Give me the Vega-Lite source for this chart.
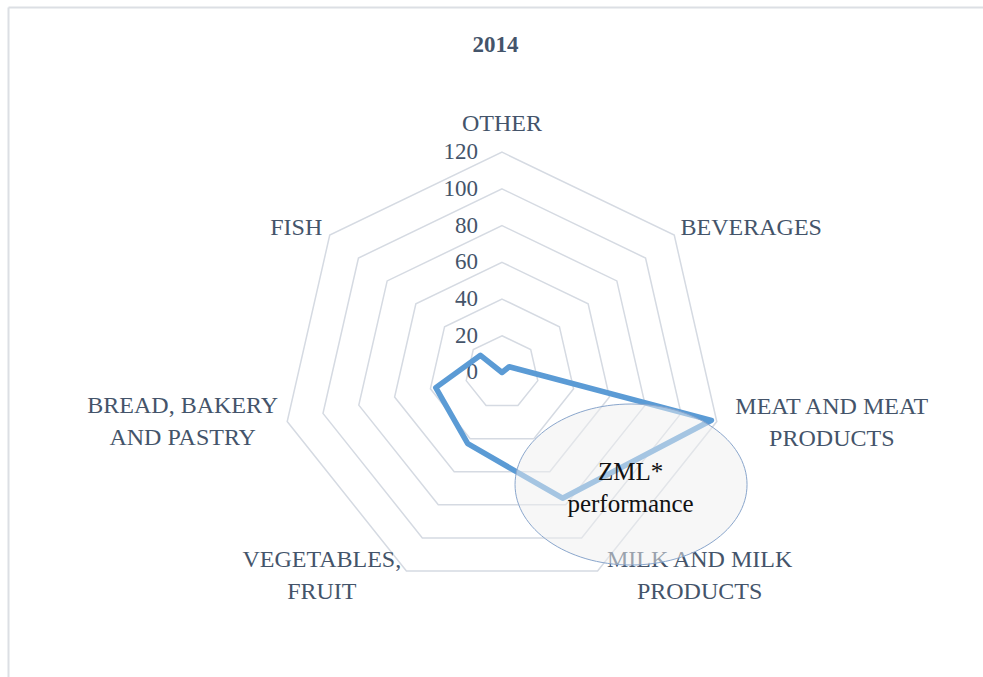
{
  "$schema": "https://vega.github.io/schema/vega-lite/v6.json",
  "autosize": "none",
  "width": 975,
  "height": 670,
  "padding": {"left": 8, "top": 7, "right": 0, "bottom": 0},
  "background": "white",
  "config": {"view": {"stroke": null}},
  "title": {
    "text": "2014",
    "font": "Liberation Serif",
    "fontSize": 23,
    "fontWeight": "bold",
    "color": "#44546a",
    "anchor": "middle",
    "frame": "group",
    "baseline": "middle",
    "offset": -61
  },
  "datasets": {
    "series": [
      {"category": "OTHER", "i": 0, "value": 0, "label": ["OTHER"]},
      {"category": "BEVERAGES", "i": 1, "value": 5, "label": ["BEVERAGES"]},
      {"category": "MEAT AND MEAT PRODUCTS", "i": 2, "value": 117, "label": ["MEAT AND MEAT", "PRODUCTS"]},
      {"category": "MILK AND MILK PRODUCTS", "i": 3, "value": 76, "label": ["MILK AND MILK", "PRODUCTS"]},
      {"category": "VEGETABLES, FRUIT", "i": 4, "value": 43, "label": ["VEGETABLES,", "FRUIT"]},
      {"category": "BREAD, BAKERY AND PASTRY", "i": 5, "value": 37, "label": ["BREAD, BAKERY", "AND PASTRY"]},
      {"category": "FISH", "i": 6, "value": 15, "label": ["FISH"]}
    ],
    "rings": [
      {"level": 20, "i": [0, 1, 2, 3, 4, 5, 6]},
      {"level": 40, "i": [0, 1, 2, 3, 4, 5, 6]},
      {"level": 60, "i": [0, 1, 2, 3, 4, 5, 6]},
      {"level": 80, "i": [0, 1, 2, 3, 4, 5, 6]},
      {"level": 100, "i": [0, 1, 2, 3, 4, 5, 6]},
      {"level": 120, "i": [0, 1, 2, 3, 4, 5, 6]}
    ],
    "ticks": [
      {"level": 0}, {"level": 20}, {"level": 40}, {"level": 60},
      {"level": 80}, {"level": 100}, {"level": 120}
    ],
    "notes": [
      {"category": "MILK AND MILK PRODUCTS", "note": ["ZML*", "performance"]}
    ]
  },
  "layer": [
    {
      "data": {"name": "rings"},
      "transform": [
        {"flatten": ["i"]},
        {"calculate": "datum.i * 2 * PI / 7", "as": "angle"},
        {"calculate": "datum.level * sin(datum.angle)", "as": "px"},
        {"calculate": "datum.level * cos(datum.angle)", "as": "py"}
      ],
      "mark": {"type": "line", "interpolate": "linear-closed", "stroke": "#d5dae2", "strokeWidth": 1.5},
      "encoding": {
        "x": {
          "field": "px", "type": "quantitative",
          "scale": {"domain": [-269.06, 261.98], "zero": false, "nice": false},
          "axis": {"orient": "top", "domain": true, "domainColor": "#dcdfe4", "domainWidth": 2, "ticks": false, "labels": false, "grid": false, "title": null}
        },
        "y": {
          "field": "py", "type": "quantitative",
          "scale": {"domain": [-165.85, 199.07], "zero": false, "nice": false},
          "axis": {"orient": "left", "domain": true, "domainColor": "#dcdfe4", "domainWidth": 2, "ticks": false, "labels": false, "grid": false, "title": null}
        },
        "detail": {"field": "level", "type": "quantitative"},
        "order": {"field": "i", "type": "quantitative"}
      }
    },
    {
      "data": {"name": "ticks"},
      "transform": [{"calculate": "0", "as": "px"}],
      "mark": {"type": "text", "align": "right", "baseline": "middle", "dx": -24, "font": "Liberation Serif", "fontSize": 23, "color": "#44546a"},
      "encoding": {
        "x": {"field": "px", "type": "quantitative"},
        "y": {"field": "level", "type": "quantitative"},
        "text": {"field": "level", "type": "quantitative"}
      }
    },
    {
      "data": {"name": "series"},
      "transform": [
        {"calculate": "datum.i * 2 * PI / 7", "as": "angle"},
        {"calculate": "datum.value * sin(datum.angle)", "as": "px"},
        {"calculate": "datum.value * cos(datum.angle)", "as": "py"}
      ],
      "mark": {"type": "line", "interpolate": "linear-closed", "stroke": "#5b9bd5", "strokeWidth": 5.5, "strokeJoin": "round"},
      "encoding": {
        "x": {"field": "px", "type": "quantitative"},
        "y": {"field": "py", "type": "quantitative"},
        "order": {"field": "i", "type": "quantitative"}
      }
    },
    {
      "data": {"name": "series"},
      "transform": [
        {"calculate": "datum.i * 2 * PI / 7", "as": "angle"},
        {"calculate": "120 * sin(datum.angle)", "as": "px"},
        {"calculate": "120 * cos(datum.angle)", "as": "py"}
      ],
      "mark": {
        "type": "text",
        "align": "center",
        "baseline": "middle",
        "lineHeight": 32,
        "font": "Liberation Serif",
        "fontSize": 24,
        "color": "#44546a",
        "dx": {"expr": "[0, 77, 115, 102, -84.6, -104.5, -33.5][datum.i]"},
        "dy": {"expr": "[-28.5, -7.3, -14.5, -10.7, -10.7, -16, -7.3][datum.i]"}
      },
      "encoding": {
        "x": {"field": "px", "type": "quantitative"},
        "y": {"field": "py", "type": "quantitative"},
        "text": {"field": "label"}
      }
    },
    {
      "data": {"name": "series"},
      "transform": [
        {"filter": "datum.i == 3"},
        {"calculate": "datum.i * 2 * PI / 7", "as": "angle"},
        {"calculate": "datum.value * sin(datum.angle)", "as": "px"},
        {"calculate": "datum.value * cos(datum.angle)", "as": "py"}
      ],
      "mark": {
        "type": "point",
        "shape": "M -0.4095 -0.1181 C -0.4095 -0.5011 0.0385 -0.8121 0.5905 -0.8121 C 1.1425 -0.8121 1.5905 -0.5011 1.5905 -0.1181 C 1.5905 0.2649 1.1425 0.5759 0.5905 0.5759 C 0.0385 0.5759 -0.4095 0.2649 -0.4095 -0.1181 Z",
        "size": 53824,
        "filled": true,
        "fill": "#f0f0f0",
        "fillOpacity": 0.5,
        "opacity": 1,
        "stroke": "#8aa6cc",
        "strokeOpacity": 1,
        "strokeWidth": 1
      },
      "encoding": {
        "x": {"field": "px", "type": "quantitative"},
        "y": {"field": "py", "type": "quantitative"}
      }
    },
    {
      "data": {"name": "series"},
      "transform": [
        {"lookup": "category", "from": {"data": {"name": "notes"}, "key": "category", "fields": ["note"]}},
        {"filter": "isValid(datum.note)"},
        {"calculate": "datum.i * 2 * PI / 7", "as": "angle"},
        {"calculate": "datum.value * sin(datum.angle)", "as": "px"},
        {"calculate": "datum.value * cos(datum.angle)", "as": "py"}
      ],
      "mark": {
        "type": "text",
        "align": "center",
        "baseline": "middle",
        "lineHeight": 32,
        "font": "Liberation Serif",
        "fontSize": 25,
        "color": "#111111",
        "dx": 68,
        "dy": -26
      },
      "encoding": {
        "x": {"field": "px", "type": "quantitative"},
        "y": {"field": "py", "type": "quantitative"},
        "text": {"field": "note"}
      }
    }
  ]
}
